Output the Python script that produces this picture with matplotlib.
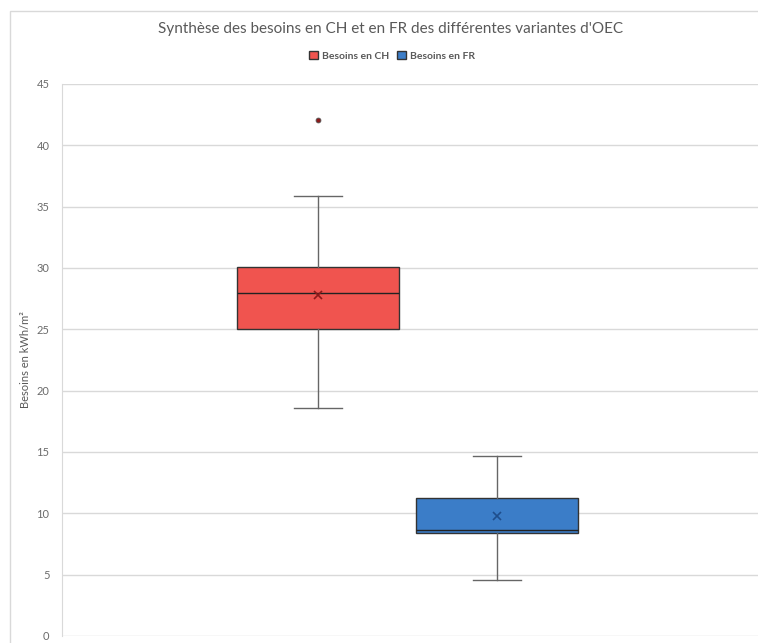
import matplotlib
matplotlib.use("Agg")
import matplotlib.pyplot as plt
from matplotlib.patches import Rectangle, Patch

# Données (kWh/m²)
series = ["Besoins en CH", "Besoins en FR"]
q1 = [25.05, 8.4]
med = [28.0, 8.65]
q3 = [30.1, 11.25]
moy = [27.8, 9.75]
wlo = [18.6, 4.6]
whi = [35.85, 14.7]
outliers = [[42.1], []]

couleurs = ["#F0544F", "#3B7DC8"]
couleurs_x = ["#8B1A1A", "#1F4E8C"]
yticks = [0, 5, 10, 15, 20, 25, 30, 35, 40, 45]

plt.rcParams['font.family'] = ['Lato', 'DejaVu Sans']

fig = plt.figure(figsize=(7.58, 6.43), dpi=100)
ax = fig.add_axes([62 / 758, 1 - 636 / 643, 1 - 62 / 758, (636 - 84) / 643])

# cadre du graphique
fig.patches.append(Rectangle((10 / 758, -0.1), 1.2, 1 - 11 / 643 + 0.1,
                             transform=fig.transFigure, fill=False,
                             edgecolor="#d9d9d9", linewidth=1.0, zorder=0))

stats = []
for i in range(len(series)):
    stats.append(dict(label=series[i], q1=q1[i], med=med[i], q3=q3[i],
                      whislo=wlo[i], whishi=whi[i], mean=moy[i], fliers=outliers[i]))

positions = [1, 2]
bp = ax.bxp(stats, positions=positions, widths=0.91, patch_artist=True,
            showmeans=True, showfliers=True, manage_ticks=False,
            boxprops=dict(linewidth=1.0, edgecolor="#333333"),
            medianprops=dict(color="#222222", linewidth=1.0),
            whiskerprops=dict(color="#666666", linewidth=1.0),
            capprops=dict(color="#666666", linewidth=1.0),
            capwidths=0.27,
            meanprops=dict(marker="x", markersize=6, markeredgewidth=1.2),
            flierprops=dict(marker="o", markersize=3.5, markerfacecolor="#8B1A1A",
                            markeredgecolor="#555555", markeredgewidth=0.6))
for i, box in enumerate(bp["boxes"]):
    box.set_facecolor(couleurs[i])
for i, m in enumerate(bp["means"]):
    m.set_markeredgecolor(couleurs_x[i])
    m.set_markerfacecolor(couleurs_x[i])

ax.set_xlim(1 - 256 / 179, 1 + 440 / 179)
ax.set_ylim(0, 45)
ax.set_yticks(yticks)
ax.set_xticks([])
ax.yaxis.grid(True, color="#d9d9d9", linewidth=1.0)
ax.set_axisbelow(True)
for s in ["top", "right", "bottom"]:
    ax.spines[s].set_visible(False)
ax.spines["left"].set_color("#d9d9d9")
ax.tick_params(axis="y", length=0, pad=9, labelsize=8, labelcolor="#6b6b6b")
ax.set_ylabel("Besoins en kWh/m²", fontsize=8, color="#595959")
ax.yaxis.set_label_coords(-31 / 696, 0.5)

fig.text(391 / 758, 1 - 29 / 643, "Synthèse des besoins en CH et en FR des différentes variantes d'OEC",
         ha="center", va="center", fontsize=11, color="#595959")

handles = [Patch(facecolor=couleurs[i], edgecolor="#333333", label=series[i]) for i in range(len(series))]
fig.legend(handles=handles, loc="center", bbox_to_anchor=(392 / 758, 1 - 56 / 643), ncol=2,
           frameon=False, handlelength=0.8, handleheight=0.8, handletextpad=0.4,
           columnspacing=0.8, prop=dict(weight="bold", size=7.5))
leg = fig.legends[0]
for t in leg.get_texts():
    t.set_color("#595959")

fig.savefig("out.png", dpi=100)
